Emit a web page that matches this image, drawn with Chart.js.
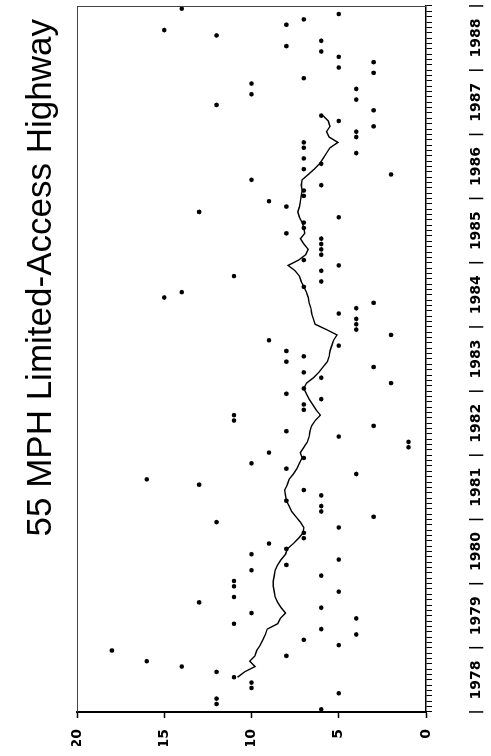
<!DOCTYPE html>
<html>
<head>
<meta charset="utf-8">
<script src="https://cdn.jsdelivr.net/npm/chart.js@4.4.0/dist/chart.umd.min.js"></script>
<style>
  html, body { margin: 0; padding: 0; background: #fff; overflow: hidden; }
  /* chart is drawn upright, then turned a quarter turn like the scanned page */
  #wrap { position: absolute; left: 0; top: 0; width: 756px; height: 491px;
          transform-origin: 0 0; transform: translate(0, 756px) rotate(-90deg); }
</style>
</head>
<body>
<div id="wrap"><canvas id="chart" width="756" height="491"></canvas></div>
<script>
const titleText = '55 MPH Limited-Access Highway';
const years = ['1978', '1979', '1980', '1981', '1982', '1983', '1984', '1985', '1986', '1987', '1988'];

// one value per month, Jan 1978 .. Dec 1988
const monthlyValues = [
    6, 12, 12, 5, 10, 10, 11, 12, 14, 16, 8, 18,
    5, 7, 4, 6, 11, 4, 10, 6, 13, 11, 5, 11,
    11, 6, 10, 8, 5, 10, 8, 9, 7, 7, 5, 12,
    3, 6, 6, 8, 6, 7, 13, 16, 4, 8, 10, 7,
    9, 1, 1, 5, 8, 3, 11, 11, 7, 7, 6, 8,
    7, 2, 6, 7, 3, 8, 7, 8, 5, 9, 2, 4,
    4, 4, 5, 4, 3, 15, 14, 7, 6, 11, 6, 5,
    7, 6, 6, 6, 6, 8, 7, 7, 5, 13, 8, 9,
    7, 7, 6, 10, 2, 7, 6, 7, 4, 7, 7, 4,
    4, 3, 5, 6, 3, 12, 4, 10, 4, 10, 7, 3,
    5, 3, 5, 6, 8, 6, 12, 15, 8, 7, 5, 14
];

// smoothed line, starts at month 6 (Jul 1978)
const trendStart = 6;
const trendValues = [
    10.8, 10.4, 9.8, 10.1, 9.8, 9.7,
    9.5, 9.35, 9.2, 9.1, 8.5, 8.35, 8.05, 8.3, 8.5, 8.65, 8.7, 8.75,
    8.75, 8.7, 8.65, 8.5, 8.3, 8.05, 7.95, 7.6, 7.3, 7.05, 7.0, 7.2,
    7.45, 7.7, 7.85, 8.0, 8.05, 8.1, 7.95, 7.85, 7.6, 7.4, 7.25, 7.1,
    7.2, 7.0, 6.8, 6.7, 6.65, 6.55, 6.35, 6.05, 6.3, 6.5, 6.7, 6.85,
    7.0, 6.85, 6.45, 6.15, 5.9, 5.65, 5.55, 5.5, 5.4, 5.3, 5.1, 5.7,
    6.35, 6.45, 6.55, 6.6, 6.7, 6.75, 6.85, 7.0, 7.15, 7.25, 7.5, 7.9,
    7.3, 6.9, 6.75, 7.0, 7.2, 6.95, 7.0, 7.1, 7.25, 7.35, 7.25, 7.2,
    7.15, 7.1, 7.15, 7.1, 6.75, 6.4, 6.1, 5.9, 5.7, 5.5, 5.05, 5.55,
    5.7, 5.5, 5.6, 5.9
];

const monthCount = years.length * 12;
const points = monthlyValues.map((v, i) => ({ x: i, y: v }));
const trend = trendValues.map((v, i) => ({ x: trendStart + i, y: v }));

// month boundaries carry the little ticks, year labels and separators
const monthEdges = [];
for (let i = 0; i <= monthCount; i++) monthEdges.push(i - 0.5);

const framePlugin = {
    id: 'frame',
    afterDraw(chart) {
        const { ctx, chartArea: a } = chart;
        ctx.save();
        ctx.strokeStyle = '#444';
        ctx.lineWidth = 1;
        ctx.beginPath();
        ctx.moveTo(a.left, a.top + 0.5);
        ctx.lineTo(a.right, a.top + 0.5);
        ctx.moveTo(a.right - 0.5, a.top);
        ctx.lineTo(a.right - 0.5, a.bottom);
        ctx.stroke();
        // title
        ctx.fillStyle = '#000';
        ctx.font = '35px "Liberation Sans", Arial, sans-serif';
        ctx.textAlign = 'center';
        ctx.textBaseline = 'middle';
        ctx.fillText(titleText, a.left + 0.615 * (a.right - a.left), 41);
        ctx.restore();
    }
};

new Chart(document.getElementById('chart'), {
    type: 'scatter',
    data: {
        datasets: [
            {
                data: points,
                showLine: false,
                pointRadius: 2.3,
                pointBorderWidth: 0,
                pointBackgroundColor: '#000',
                pointBorderColor: '#000'
            },
            {
                data: trend,
                showLine: true,
                borderColor: '#000',
                borderWidth: 1.4,
                pointRadius: 0,
                tension: 0,
                fill: false
            }
        ]
    },
    options: {
        responsive: false,
        animation: false,
        layout: { padding: { left: 10, right: 6, top: 77, bottom: 5 } },
        plugins: {
            legend: { display: false },
            tooltip: { enabled: false },
            title: { display: false }
        },
        scales: {
            x: {
                type: 'linear',
                min: -0.5,
                max: monthCount - 0.5,
                afterBuildTicks: s => { s.ticks = monthEdges.map(v => ({ value: v })); },
                afterFit: s => { s.height = 60; s.paddingLeft = 0; s.paddingRight = 0; },
                grid: { drawOnChartArea: false, tickLength: 6, tickWidth: 1, tickColor: '#000' },
                border: { color: '#000', width: 1.5 },
                ticks: {
                    autoSkip: false,
                    maxRotation: 0,
                    minRotation: 0,
                    padding: 36,
                    color: '#000',
                    font: { family: '"DejaVu Sans", sans-serif', size: 14, weight: 'bold' },
                    callback: value => {
                        const k = Math.round(value + 0.5);
                        if (k % 12 === 0) return '|';
                        if ((k - 6) % 12 === 0) return years[(k - 6) / 12];
                        return '';
                    }
                }
            },
            y: {
                min: 0,
                max: 20,
                afterFit: s => { s.width = 34; s.paddingTop = 0; s.paddingBottom = 0; },
                grid: { drawOnChartArea: false, tickLength: 6, tickWidth: 1.5, tickColor: '#000' },
                border: { color: '#000', width: 2 },
                ticks: {
                    stepSize: 5,
                    padding: 11,
                    color: '#000',
                    font: { family: '"DejaVu Sans", sans-serif', size: 14, weight: 'bold' }
                }
            }
        }
    },
    plugins: [framePlugin]
});
</script>
</body>
</html>
